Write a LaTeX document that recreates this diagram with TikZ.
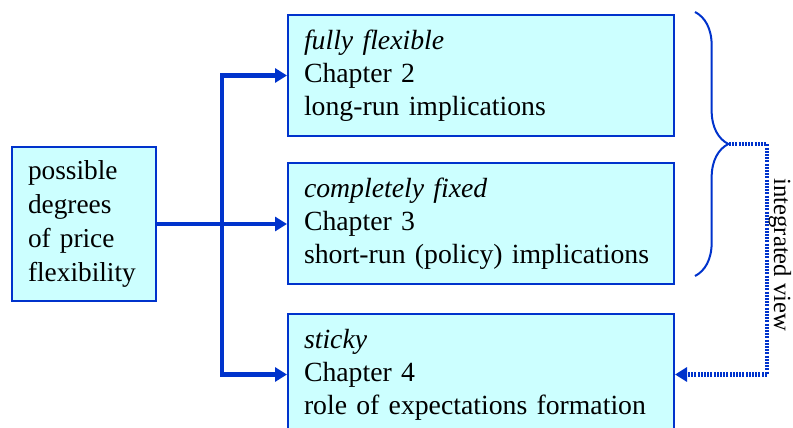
\documentclass[tikz,border=0pt]{standalone}
\usepackage{fontspec}
\setmainfont{Liberation Serif}
\usetikzlibrary{positioning,arrows.meta,decorations.pathreplacing}
\definecolor{Cyan}{HTML}{CCFFFF}
\definecolor{Blue}{HTML}{0033CC}

\begin{document}
\begin{tikzpicture}[x=0.75pt,y=-0.75pt,every node/.style={font=\fontsize{20.8}{24.8}\selectfont}]
\tikzstyle{chapbox}=[draw=Blue,fill=Cyan,line width=1.5pt,minimum width=289.5pt,minimum height=90.75pt,inner xsep=12pt,text width=265.5pt,align=left]
\tikzstyle{flow}=[line width=3.5pt,Blue,-{Triangle[length=9pt,width=10.5pt]}]
\tikzstyle{dotflow}=[line width=3.3pt,Blue,dash pattern=on 1.5pt off 0.9pt,-{Triangle[length=9pt,width=10.5pt]}]
\useasboundingbox (0,0) rectangle (793,428);
\node[chapbox,minimum width=108pt,minimum height=115.5pt,text width=84pt,anchor=north west,font=\fontsize{20.5}{25.5}\selectfont] (deg) at (11,146) {possible\\ degrees\\ of price\\ flexibility};
\node[chapbox,anchor=north west] (flex) at (287,14) {\textit{fully flexible}\\ Chapter 2\\ long-run implications};
\node[chapbox,below=18.75pt of flex] (fixed) {\textit{completely fixed}\\ Chapter 3\\ short-run (policy) implications};
\node[chapbox,below=21pt of fixed] (sticky) {\textit{sticky}\\ Chapter 4\\ role of expectations formation};
\coordinate (jn) at (222,223);
\draw[flow] (deg.east) -- (deg.east -| fixed.west);
\draw[flow] (jn) |- (flex.west);
\draw[flow] (jn) |- (sticky.west);
% brace and integrated view
\coordinate (bt) at (695,12);
\coordinate (bb) at (695,276);
\draw[Blue,line width=1.5pt,decorate,decoration={brace,amplitude=25pt}] (bt) -- (bb);
\coordinate (tip) at (729,144);
\coordinate (turn) at (767,144);
\draw[dotflow] (tip) -- (turn) |- (sticky.east);
\node[rotate=-90,font=\fontsize{18.5}{22}\selectfont] (iv) at (780,255) {integrated view};
\end{tikzpicture}
\end{document}
